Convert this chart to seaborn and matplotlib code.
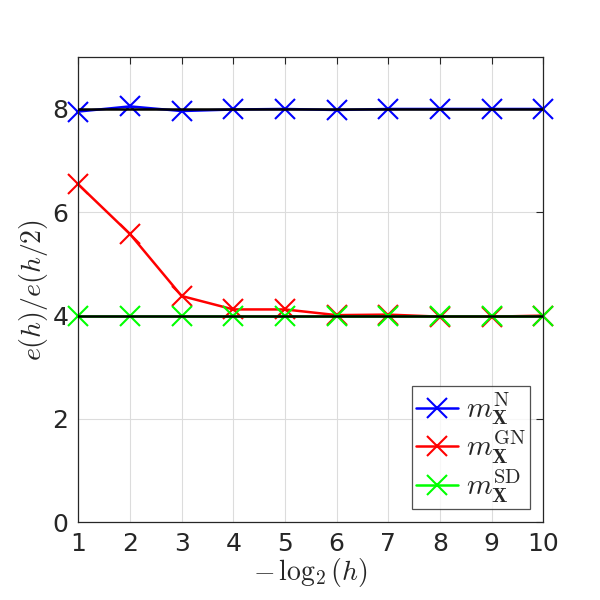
import numpy as np
import pandas as pd
import matplotlib
matplotlib.use('Agg')
import matplotlib.pyplot as plt
import seaborn as sns

levels = [1, 2, 3, 4, 5, 6, 7, 8, 9, 10]
ratio_n = [7.95, 8.05, 7.96, 7.99, 8.0, 7.98, 8.0, 8.0, 8.0, 8.0]
ratio_gn = [6.54, 5.58, 4.38, 4.12, 4.12, 4.01, 4.02, 3.98, 3.98, 4.0]
ratio_sd = [4.0, 4.0, 4.0, 4.0, 4.0, 4.0, 4.0, 4.0, 4.0, 4.0]
ref_levels = [8, 4]

series_names = [r'$m_{\mathbf{X}}^{\mathrm{N}}$',
                r'$m_{\mathbf{X}}^{\mathrm{GN}}$',
                r'$m_{\mathbf{X}}^{\mathrm{SD}}$']
series_colors = ['#0000ff', '#ff0000', '#00ff00']

sns.set_style('white')
plt.rcParams['font.family'] = ['DejaVu Sans']
plt.rcParams['mathtext.fontset'] = 'cm'

fig = plt.figure(figsize=(6, 6), dpi=100)
ax = fig.add_axes([0.1305, 0.1295, 0.775, 0.775])

for vals, name, col in zip([ratio_n, ratio_gn, ratio_sd], series_names, series_colors):
    d = pd.DataFrame({'level': levels, 'ratio': vals})
    sns.lineplot(data=d, x='level', y='ratio', color=col, marker='x',
                 markersize=15, markeredgewidth=1.5, markeredgecolor=col,
                 linewidth=1.8, label=name, ax=ax, clip_on=False)
for r in ref_levels:
    ax.axhline(r, color='black', linewidth=1.8, zorder=3)

ax.set_xlim(1, 10)
ax.set_ylim(0, 9)
ax.set_xticks(levels)
ax.set_yticks([0, 2, 4, 6, 8])
ax.grid(True, color='#dcdcdc', linewidth=0.8)
ax.tick_params(direction='in', top=True, right=True, length=5, width=0.8,
               labelsize=18, colors='#262626', pad=7)
for s in ax.spines.values():
    s.set_color('#262626')
    s.set_linewidth(0.9)

ax.set_xlabel(r'$-\,\log_2(h)$', fontsize=20, labelpad=0)
ax.set_ylabel(r'$e(h)/e(h/2)$', fontsize=20, labelpad=2)

handles, labels = ax.get_legend_handles_labels()
leg = ax.legend(handles, labels, loc='lower right', fontsize=21, frameon=True,
                fancybox=False, edgecolor='#262626', handlelength=1.45,
                handletextpad=0.25, borderpad=0.15, labelspacing=0.05,
                borderaxespad=0.45)
leg.get_frame().set_linewidth(0.9)

fig.savefig('out.png', dpi=100)
